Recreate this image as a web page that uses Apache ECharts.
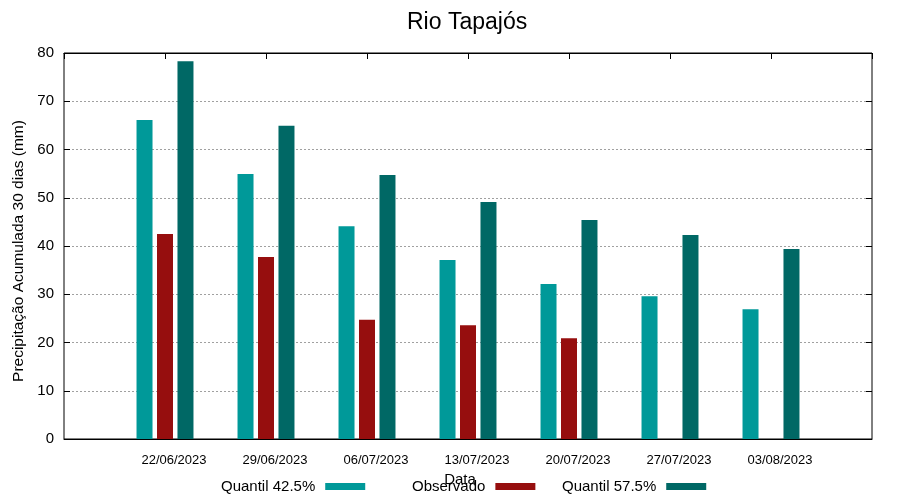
<!DOCTYPE html>
<html>
<head>
<meta charset="utf-8">
<script src="https://cdn.jsdelivr.net/npm/echarts@6/dist/echarts.min.js"></script>
<style>html,body{margin:0;padding:0;background:#fff}#c{width:900px;height:500px}</style>
</head>
<body>
<div id="c"></div>
<script>
const categories = ['22/06/2023','29/06/2023','06/07/2023','13/07/2023','20/07/2023','27/07/2023','03/08/2023'];
const quantil425 = [66.1, 54.9, 44.1, 37.1, 32.1, 29.6, 26.9];
const observado = [42.5, 37.7, 24.7, 23.6, 20.9, null, null];
const quantil575 = [78.3, 64.9, 54.7, 49.1, 45.4, 42.3, 39.4];
const yTicks = [0, 10, 20, 30, 40, 50, 60, 70, 80];

const pad = arr => [null].concat(arr, [null]);
const cats = [''].concat(categories, ['']);
const FONT = 'Liberation Sans, Arial, sans-serif';
const C1 = '#009999', C2 = '#960e0e', C3 = '#006865';

const chart = echarts.init(document.getElementById('c'));
const legendBase = {
  orient: 'horizontal', top: 479, padding: 0, align: 'right',
  itemWidth: 40, itemHeight: 7, icon: 'rect',
  textStyle: { fontFamily: FONT, fontSize: 15, color: '#000', padding: [0, 5, 0, 0] }
};
chart.setOption({
  animation: false,
  backgroundColor: '#fff',
  title: {
    text: 'Rio Tapajós', left: 402, top: 6,
    textStyle: { fontFamily: FONT, fontSize: 23, fontWeight: 'normal', color: '#000' }
  },
  legend: [
    Object.assign({}, legendBase, { left: 221, data: ['Quantil 42.5%'] }),
    Object.assign({}, legendBase, { left: 412, data: ['Observado'] }),
    Object.assign({}, legendBase, { left: 562, data: ['Quantil 57.5%'] })
  ],
  grid: { left: 64, right: 28, top: 53, bottom: 61, show: true, borderColor: '#000', borderWidth: 1, backgroundColor: 'transparent' },
  xAxis: [
    {
      type: 'category', data: cats, boundaryGap: false, position: 'bottom',
      name: 'Data', nameLocation: 'middle', nameGap: 20,
      nameTextStyle: { fontFamily: FONT, fontSize: 15, color: '#000', padding: [0, 16, 0, 0] },
      axisLine: { show: true, onZero: false, lineStyle: { color: '#000', width: 1 } },
      axisTick: { show: false },
      axisLabel: { fontFamily: FONT, fontSize: 13, color: '#000', margin: 15, padding: [0, 0, 0, 18], interval: 0 },
      splitLine: { show: false }
    },
    {
      type: 'category', data: cats, boundaryGap: false, position: 'top',
      axisLine: { show: true, onZero: false, lineStyle: { color: '#000', width: 1 } },
      axisTick: { show: true, inside: true, length: 6, interval: 0, lineStyle: { color: '#000' } },
      axisLabel: { show: false },
      splitLine: { show: false }
    }
  ],
  yAxis: [
    {
      type: 'value', min: yTicks[0], max: yTicks[yTicks.length - 1], interval: 10,
      name: 'Precipitação Acumulada 30 dias (mm)', nameLocation: 'middle', nameGap: 33,
      nameTextStyle: { fontFamily: FONT, fontSize: 15.5, color: '#000', padding: [0, 10, 0, 0] },
      axisLine: { show: false },
      axisTick: { show: true, inside: true, length: 6, lineStyle: { color: '#000' } },
      axisLabel: { fontFamily: FONT, fontSize: 15, color: '#000', margin: 10 },
      splitLine: { show: true, lineStyle: { color: '#a0a0a0', type: [2, 2], width: 1 } }
    },
    {
      type: 'value', min: yTicks[0], max: yTicks[yTicks.length - 1], interval: 10, position: 'right',
      axisLine: { show: false },
      axisTick: { show: true, inside: true, length: 6, lineStyle: { color: '#000' } },
      axisLabel: { show: false },
      splitLine: { show: false }
    }
  ],
  series: [
    { name: 'Quantil 42.5%', type: 'bar', xAxisIndex: 0, yAxisIndex: 0, data: pad(quantil425), barWidth: 16, barGap: '28%', itemStyle: { color: C1 } },
    { name: 'Observado', type: 'bar', xAxisIndex: 0, yAxisIndex: 0, data: pad(observado), barWidth: 16, barGap: '28%', itemStyle: { color: C2 } },
    { name: 'Quantil 57.5%', type: 'bar', xAxisIndex: 0, yAxisIndex: 0, data: pad(quantil575), barWidth: 16, barGap: '28%', itemStyle: { color: C3 } }
  ]
});
</script>
</body>
</html>
